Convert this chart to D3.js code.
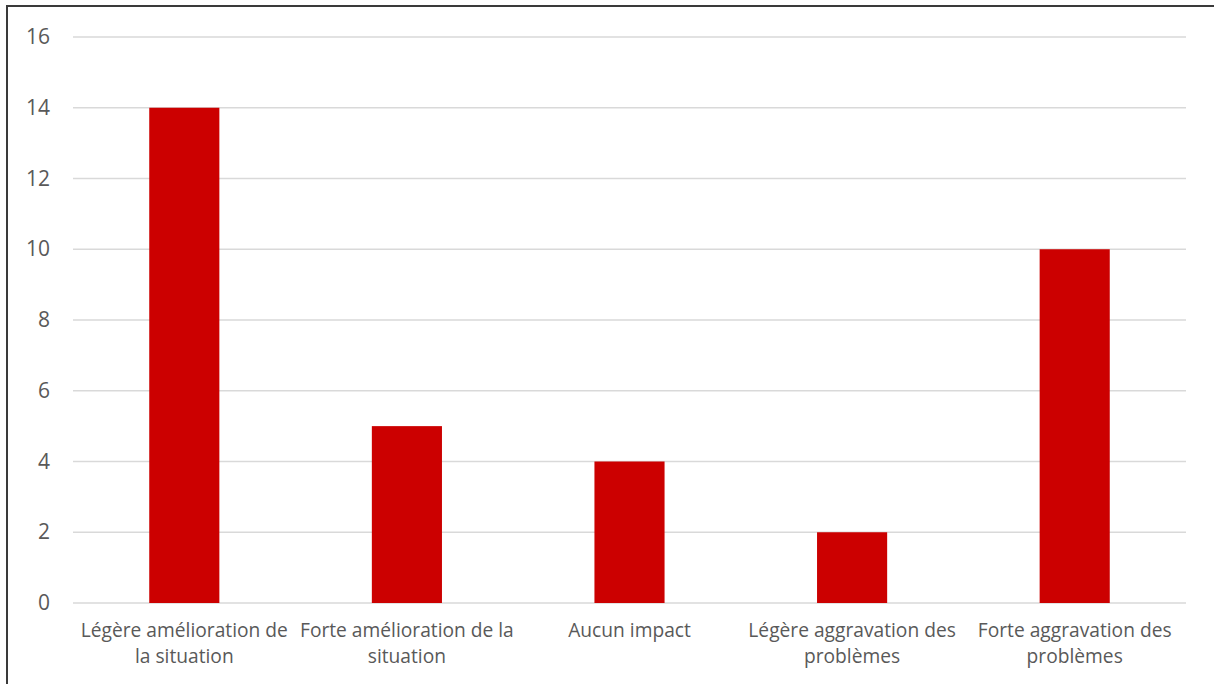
<!DOCTYPE html>
<html>
<head>
<meta charset="utf-8">
<script src="https://cdn.jsdelivr.net/npm/d3@7"></script>
<style>
  body { margin: 0; background: #fff; }
  text { font-family: "Open Sans", "Noto Sans", sans-serif; fill: #595959; }
  .y-axis text { font-size: 21px; }
</style>
</head>
<body>
<svg class="chart"></svg>
<script>
// Data
var categories = [
    ['Légère amélioration de', 'la situation'],
    ['Forte amélioration de la', 'situation'],
    ['Aucun impact'],
    ['Légère aggravation des', 'problèmes'],
    ['Forte aggravation des', 'problèmes']
];
var values = [14, 5, 4, 2, 10];
var yTicks = [0, 2, 4, 6, 8, 10, 12, 14, 16];

var W = 1214, H = 684;
var margin = { top: 37, right: 28, bottom: 81, left: 73 },
    width = W - margin.left - margin.right,
    height = H - margin.top - margin.bottom;

var svg = d3.select('.chart').attr('width', W).attr('height', H);

// frame
svg.append('path')
    .attr('d', 'M7,' + H + ' V6 H' + W)
    .attr('fill', 'none')
    .attr('stroke', '#3a3a3a')
    .attr('stroke-width', 2);

var chart = svg.append('g')
    .attr('transform', 'translate(' + margin.left + ',' + margin.top + ')');

var x = d3.scaleBand().domain(d3.range(categories.length)).range([0, width]).paddingInner(0.685).paddingOuter(0.3425);
var y = d3.scaleLinear().domain([0, 16]).range([height, 0]);

// gridlines
chart.append('g')
    .selectAll('line')
    .data(yTicks)
    .enter()
    .append('line')
    .attr('x1', 0)
    .attr('x2', width)
    .attr('y1', function (d) { return y(d); })
    .attr('y2', function (d) { return y(d); })
    .attr('stroke', '#d9d9d9')
    .attr('stroke-width', 1.3);

// y axis labels
var yAxis = d3.axisLeft(y).tickValues(yTicks).tickSize(0).tickPadding(23);
var yg = chart.append('g').attr('class', 'y-axis').call(yAxis);
yg.attr('font-size', null).attr('font-family', null);
yg.select('.domain').remove();
yg.selectAll('text').attr('fill', '#595959');

// bars
chart.selectAll('.bar')
    .data(values)
    .enter()
    .append('rect')
    .attr('class', 'bar')
    .attr('x', function (d, i) { return x(i); })
    .attr('width', x.bandwidth())
    .attr('y', function (d) { return y(d); })
    .attr('height', function (d) { return height - y(d); })
    .attr('fill', '#cc0000');

// x labels, one text per line
categories.forEach(function (lines, i) {
    chart.selectAll('.xlab' + i)
        .data(lines)
        .enter()
        .append('text')
        .attr('class', 'xlab xlab' + i)
        .attr('text-anchor', 'middle')
        .attr('x', x(i) + x.bandwidth() / 2)
        .attr('y', function (d, j) { return height + 34 + j * 26; })
        .style('font-size', '19.2px')
        .text(function (d) { return d; });
});
</script>
</body>
</html>
